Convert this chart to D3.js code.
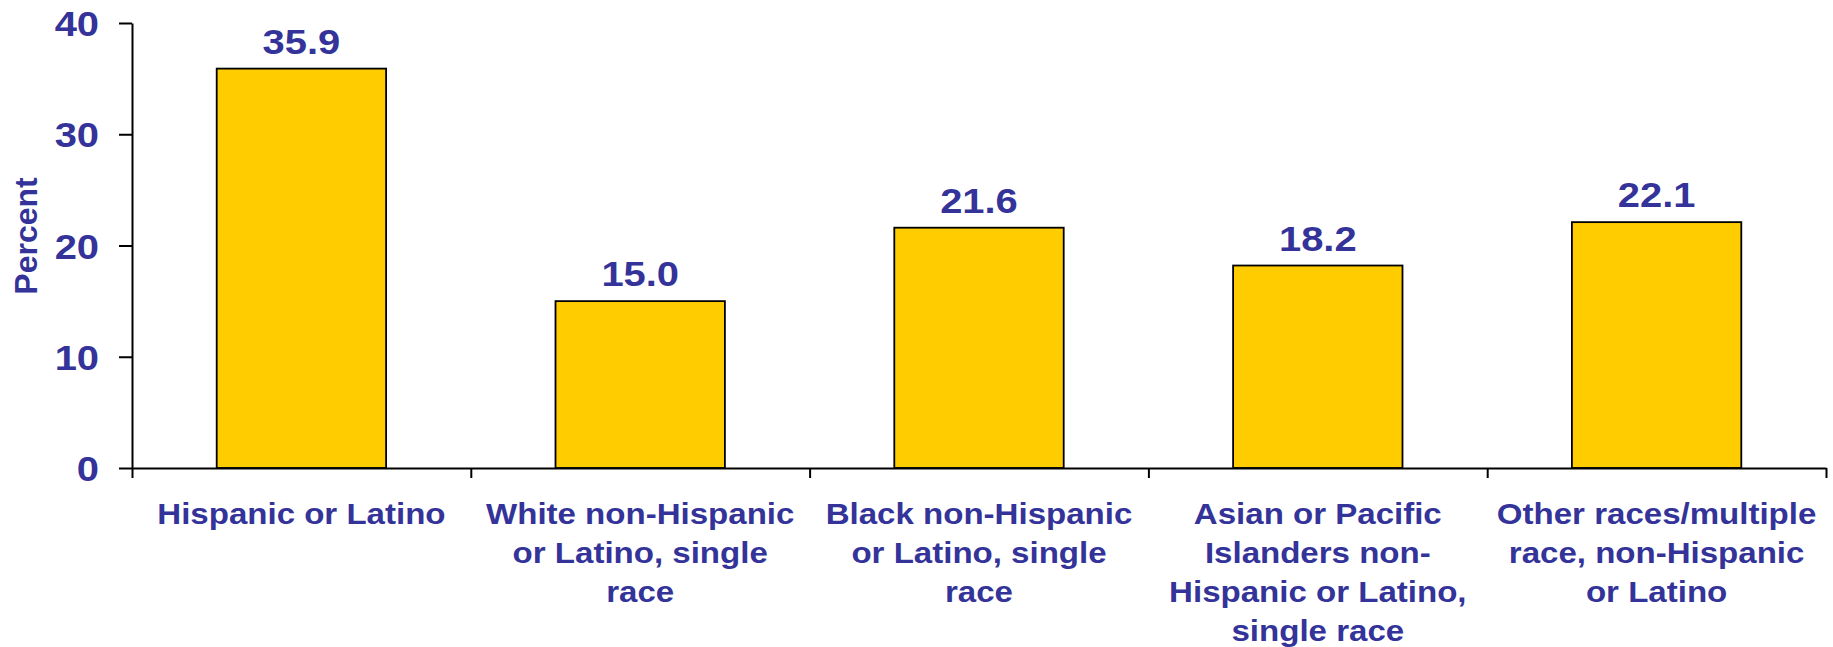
<!DOCTYPE html>
<html>
<head>
<meta charset="utf-8">
<script src="https://cdn.jsdelivr.net/npm/d3@7"></script>
<style>
  body { margin: 0; background: #fff; }
  text { font-family: "Liberation Sans", Arial, sans-serif; font-weight: bold; fill: #333399; }
</style>
</head>
<body>
<div id="chart"></div>
<script>
// chart data
var categories = [
  "Hispanic or Latino",
  "White non-Hispanic or Latino, single race",
  "Black non-Hispanic or Latino, single race",
  "Asian or Pacific Islanders non-Hispanic or Latino, single race",
  "Other races/multiple race, non-Hispanic or Latino"
];
var categoryLines = [
  ["Hispanic or Latino"],
  ["White non-Hispanic", "or Latino, single", "race"],
  ["Black non-Hispanic", "or Latino, single", "race"],
  ["Asian or Pacific", "Islanders non-", "Hispanic or Latino,", "single race"],
  ["Other races/multiple", "race, non-Hispanic", "or Latino"]
];
var values = [35.9, 15.0, 21.6, 18.2, 22.1];
var yTicks = [0, 10, 20, 30, 40];
var yTitle = "Percent";

//svg limits
var svgWidth = 1833;
var svgHeight = 647;
var stretch = 1.14; // text in the picture is a bit wide

var plot = { left: 132, right: 1826, top: 23, bottom: 468 };

var svg = d3.select("#chart")
  .append("svg")
  .attr("width", svgWidth)
  .attr("height", svgHeight);

var x = d3.scaleBand()
  .domain(categories)
  .range([plot.left, plot.right])
  .paddingInner(0.5)
  .paddingOuter(0.25);

var y = d3.scaleLinear()
  .domain([0, 40])
  .range([plot.bottom, plot.top]);

// bars
svg.selectAll(".bar")
  .data(values)
  .enter()
  .append("rect")
  .attr("class", "bar")
  .attr("x", (d, i) => x(categories[i]))
  .attr("y", d => y(d))
  .attr("width", x.bandwidth())
  .attr("height", d => y(0) - y(d))
  .attr("fill", "#FFCC00")
  .attr("stroke", "#000")
  .attr("stroke-width", 1.8);

// value labels
svg.selectAll(".val")
  .data(values)
  .enter()
  .append("text")
  .attr("class", "val")
  .attr("transform", (d, i) => `translate(${x(categories[i]) + x.bandwidth() / 2}, ${y(d) - 15}) scale(${stretch},1)`)
  .attr("text-anchor", "middle")
  .attr("font-size", "35px")
  .text(d => d.toFixed(1));

// y axis
var yAxis = svg.append("g")
  .attr("transform", `translate(${plot.left},0)`)
  .call(d3.axisLeft(y).tickValues(yTicks).tickSize(13).tickSizeOuter(0));
yAxis.selectAll("path, line").attr("stroke", "#000").attr("stroke-width", 2);
yAxis.selectAll("text")
  .attr("x", -33 / stretch)
  .attr("dy", "0.36em")
  .attr("transform", `scale(${stretch},1)`)
  .attr("font-size", "35px")
  .attr("font-family", null)
  .attr("fill", null);

// x axis, ticks sit between categories
var xTickScale = d3.scaleLinear().domain([0, categories.length]).range([plot.left, plot.right]);
var xAxis = svg.append("g")
  .attr("transform", `translate(0,${plot.bottom})`)
  .call(d3.axisBottom(xTickScale).ticks(categories.length).tickSize(10).tickSizeOuter(0).tickFormat(""));
xAxis.selectAll("path, line").attr("stroke", "#000").attr("stroke-width", 2);

// category labels
var lblGroup = svg.selectAll(".cat")
  .data(categoryLines)
  .enter()
  .append("text")
  .attr("class", "cat")
  .attr("text-anchor", "middle")
  .attr("font-size", "29px")
  .attr("transform", (d, i) => `translate(${x(categories[i]) + x.bandwidth() / 2}, 524) scale(${stretch},1)`);

lblGroup.selectAll("tspan")
  .data(d => d)
  .enter()
  .append("tspan")
  .attr("x", 0)
  .attr("y", (d, i) => i * 39)
  .text(d => d);

// y title
svg.append("text")
  .attr("transform", "translate(37,236) rotate(-90)")
  .attr("text-anchor", "middle")
  .attr("font-size", "32px")
  .text(yTitle);
</script>
</body>
</html>
